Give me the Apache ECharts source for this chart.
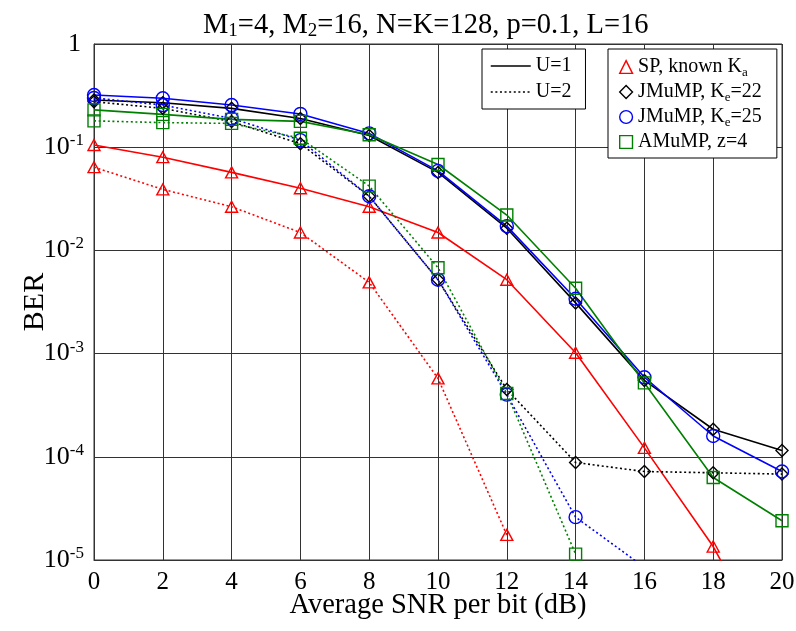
<!DOCTYPE html>
<html>
<head>
<meta charset="utf-8">
<script src="https://cdn.jsdelivr.net/npm/echarts@6/dist/echarts.min.js"></script>
<style>html,body{margin:0;padding:0;background:#fff}#c{width:796px;height:631px}</style>
</head>
<body>
<div id="c"></div>
<script>
// ---- data ----
const snr = [0, 2, 4, 6, 8, 10, 12, 14, 16, 18, 20];
const spU1   = [0.105, 0.080, 0.057, 0.040, 0.0265, 0.0149, 0.0052, 0.00102, 1.22e-4, 1.35e-5, 8e-7];
const spU2   = [0.064, 0.039, 0.0265, 0.0149, 0.0049, 5.75e-4, 1.75e-5];
const jm22U1 = [0.287, 0.27, 0.238, 0.19, 0.13, 0.057, 0.0164, 0.0031, 5.5e-4, 1.85e-4, 1.15e-4];
const jm22U2 = [0.276, 0.238, 0.177, 0.108, 0.0335, 0.0052, 4.5e-4, 8.8e-5, 7.2e-5, 7.0e-5, 6.8e-5];
const jm25U1 = [0.32, 0.298, 0.256, 0.21, 0.136, 0.059, 0.0172, 0.0034, 5.9e-4, 1.59e-4, 7.2e-5];
const jm25U2 = [0.30, 0.256, 0.19, 0.117, 0.0335, 0.0052, 4.0e-4, 2.6e-5, 8.5e-6];
const amU1   = [0.23, 0.208, 0.186, 0.178, 0.132, 0.068, 0.022, 0.0043, 5.2e-4, 6.3e-5, 2.4e-5];
const amU2   = [0.18, 0.173, 0.17, 0.122, 0.042, 0.0068, 4.1e-4, 1.14e-5];
const yTicks = [1e-5, 1e-4, 1e-3, 1e-2, 1e-1, 1];
const titleText = 'M{s|1}=4, M{s|2}=16, N=K=128, p=0.1, L=16';
const xName = 'Average SNR per bit (dB)';
const yName = 'BER';
const legendU = ['U=1', 'U=2'];
const legendAlg = ['SP, known Ka', 'JMuMP, Ke=22', 'JMuMP, Ke=25', 'AMuMP, z=4'];
const legendAlgRich = ['SP, known K{s|a}', 'JMuMP, K{s|e}=22', 'JMuMP, K{s|e}=25', 'AMuMP, z=4'];

// ---- styling ----
const FF = "'Liberation Serif', 'Times New Roman', serif";
const RED = '#ff0000', BLUE = '#0000ff', GREEN = '#008000', BLACK = '#000000';
const algStyle = [
  {color: RED, symbol: 'triangle', size: [12, 11]},
  {color: BLACK, symbol: 'diamond', size: 12},
  {color: BLUE, symbol: 'circle', size: 13},
  {color: GREEN, symbol: 'rect', size: 12}
];

function pairs(ys) { return ys.map((y, i) => [snr[i], y]); }

function mkSeries(name, ys, k, dotted) {
  const st = algStyle[k];
  return {
    name: name, type: 'line', data: pairs(ys),
    symbol: st.symbol, symbolSize: st.size, showAllSymbol: true,
    clip: true,
    itemStyle: {color: 'rgba(0,0,0,0)', borderColor: st.color, borderWidth: 1.4},
    lineStyle: {color: st.color, width: 1.6, type: dotted ? [2, 2.6] : 'solid'},
    emphasis: {disabled: true},
    z: 3
  };
}

const series = [
  mkSeries('sp1', spU1, 0, false),
  mkSeries('sp2', spU2, 0, true),
  mkSeries('jm22_1', jm22U1, 1, false),
  mkSeries('jm22_2', jm22U2, 1, true),
  mkSeries('jm25_1', jm25U1, 2, false),
  mkSeries('jm25_2', jm25U2, 2, true),
  mkSeries('am1', amU1, 3, false),
  mkSeries('am2', amU2, 3, true)
];
// legend-only series (no data)
series.push({name: legendU[0], type: 'line', data: [], symbol: 'none', lineStyle: {color: BLACK, width: 1.5, type: 'solid'}, itemStyle: {color: BLACK}});
series.push({name: legendU[1], type: 'line', data: [], symbol: 'none', lineStyle: {color: BLACK, width: 1.5, type: [2, 2.6]}, itemStyle: {color: BLACK}});
legendAlg.forEach((n, k) => {
  series.push({name: n, type: 'line', data: [], symbol: algStyle[k].symbol,
    itemStyle: {color: 'rgba(0,0,0,0)', borderColor: algStyle[k].color, borderWidth: 1.4},
    lineStyle: {color: algStyle[k].color, width: 0, opacity: 0}});
});

const chart = echarts.init(document.getElementById('c'), null, {renderer: 'canvas'});
chart.setOption({
  animation: false,
  backgroundColor: '#fff',
  title: {
    text: titleText, left: 203, top: 11, padding: 0,
    textStyle: {fontFamily: FF, fontSize: 28.5, fontWeight: 'normal', color: '#000', lineHeight: 30,
      rich: {s: {fontFamily: FF, fontSize: 19, lineHeight: 12, verticalAlign: 'bottom', color: '#000'}}}
  },
  grid: {left: 94, right: 14, top: 44, bottom: 71, show: true, borderColor: '#333', borderWidth: 1,
    containLabel: false, outerBoundsMode: 'none'},
  legend: [
    {
      left: 482, top: 49, orient: 'vertical', padding: [7, 14, 7, 8],
      itemWidth: 40, itemHeight: 14, itemGap: 6, selectedMode: false,
      backgroundColor: '#fff', borderColor: '#000', borderWidth: 1, borderRadius: 0,
      data: [
        {name: legendU[0], lineStyle: {color: BLACK, width: 1.5, type: 'solid'}, itemStyle: {opacity: 0}},
        {name: legendU[1], lineStyle: {color: BLACK, width: 1.5, type: [2, 2.6]}, itemStyle: {opacity: 0}}
      ],
      textStyle: {fontFamily: FF, fontSize: 20, color: '#000', lineHeight: 20}
    },
    {
      left: 608, top: 49, orient: 'vertical', padding: [6, 15, 4, 11],
      itemWidth: 14, itemHeight: 16, itemGap: 1, selectedMode: false,
      backgroundColor: '#fff', borderColor: '#000', borderWidth: 1, borderRadius: 0,
      data: legendAlg.map((n, k) => ({
        name: n,
        itemStyle: {color: 'rgba(0,0,0,0)', borderColor: algStyle[k].color, borderWidth: 1.4},
        lineStyle: {width: 0, opacity: 0}
      })),
      formatter: function (name) { return legendAlgRich[legendAlg.indexOf(name)]; },
      textStyle: {fontFamily: FF, fontSize: 20, color: '#000', lineHeight: 24,
        rich: {s: {fontFamily: FF, fontSize: 13, lineHeight: 10, verticalAlign: 'bottom', color: '#000'}}}
    }
  ],
  xAxis: {
    type: 'value', min: 0, max: 20, interval: 2,
    name: xName, nameLocation: 'middle', nameGap: 31, nameMoveOverlap: false,
    nameTextStyle: {fontFamily: FF, fontSize: 28.5, color: '#000'},
    axisLine: {show: true, lineStyle: {color: '#333', width: 1}},
    axisTick: {show: false},
    axisLabel: {fontFamily: FF, fontSize: 25, color: '#000', margin: 10},
    splitLine: {show: true, lineStyle: {color: '#333', width: 1}}
  },
  yAxis: {
    type: 'log', logBase: 10, min: yTicks[0], max: yTicks[yTicks.length - 1],
    name: yName, nameLocation: 'middle', nameGap: 44, nameMoveOverlap: false,
    nameTextStyle: {fontFamily: FF, fontSize: 30, color: '#000'},
    axisLine: {show: true, lineStyle: {color: '#333', width: 1}},
    axisTick: {show: false},
    axisLabel: {
      margin: 10,
      formatter: function (v) {
        const e = Math.round(Math.log10(v));
        if (e === 0) return '{one|1}';
        return '{b|10}{p|-' + Math.abs(e) + '}';
      },
      rich: {
        one: {fontFamily: FF, fontSize: 26, lineHeight: 30, color: '#000', padding: [0, 3, 0, 0]},
        b: {fontFamily: FF, fontSize: 26, lineHeight: 30, color: '#000'},
        p: {fontFamily: FF, fontSize: 17, lineHeight: 12, verticalAlign: 'top', color: '#000'}
      }
    },
    splitLine: {show: true, lineStyle: {color: '#333', width: 1}}
  },
  series: series
});
</script>
</body>
</html>
